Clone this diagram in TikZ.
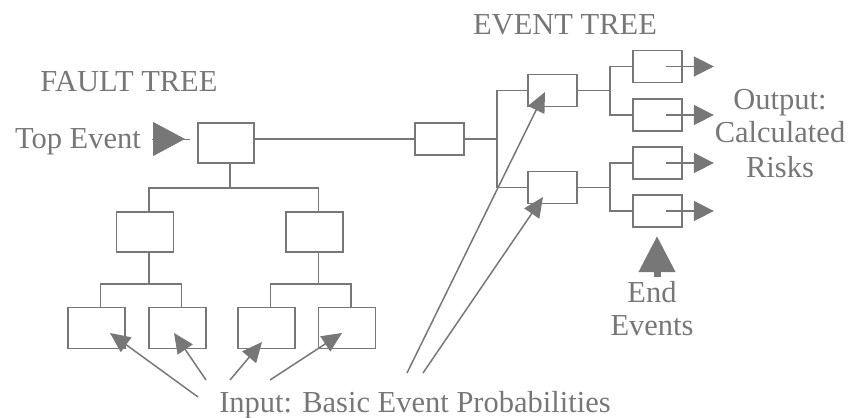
\documentclass[tikz,border=0pt]{standalone}
\usepackage{fontspec}
\setmainfont{Liberation Serif}
\usetikzlibrary{arrows.meta,calc}
\definecolor{ink}{HTML}{777777}
\begin{document}
\begin{tikzpicture}[x=1pt,y=-1pt,
  line width=1.7pt, draw=ink, color=ink,
  box/.style={draw=ink, line width=1.7pt, fill=white, inner sep=0pt, minimum width=#1},
  box/.default=57pt,
  fbox/.style={box=57pt, minimum height=40pt},
  ebox/.style={box=49pt, minimum height=32pt},
  lbl/.style={anchor=base, text=ink, font=\fontsize{30.5}{34}\selectfont, inner sep=0pt},
  inarrow/.style={-{Triangle[length=20pt,width=18pt]}, line width=1.5pt},
  outarrow/.style={-{Triangle[length=20pt,width=20pt]}, line width=1.6pt}]
\useasboundingbox (0,0) rectangle (850,417);

% fault tree boxes
\node[box=56pt, minimum height=40pt] (top) at (226,143) {};
\node[fbox] (f2a) at (145,232) {};
\node[fbox] (f2b) at (314.5,232) {};
\node[fbox, minimum height=41pt] (f3a) at (96.5,328) {};
\node[fbox, minimum height=41pt] (f3b) at (177.5,328) {};
\node[fbox, minimum height=41pt] (f3c) at (266.5,328) {};
\node[fbox, minimum height=41pt] (f3d) at (347,328) {};

% event tree boxes
\node[ebox] (e1) at (439.5,139) {};
\node[ebox] (e2) at (552.5,90.5) {};
\node[ebox] (e3) at (552.5,187.5) {};
\node[ebox] (ea) at (657.5,66.5) {};
\node[ebox] (eb) at (657.5,115) {};
\node[ebox] (ec) at (657.5,163) {};
\node[ebox] (ed) at (657.5,211) {};

% fault tree connectors
\draw ([xshift=4pt]top.south) -- ++(0,24) coordinate (fb0);
\draw ([xshift=4pt]f2a.north) |- (fb0) -| ([xshift=4pt]f2b.north);
\draw ([xshift=4pt]f2a.south) -- ++(0,31) coordinate (fb1);
\draw ([xshift=4pt]f3a.north) |- (fb1) -| ([xshift=4pt]f3b.north);
\draw ([xshift=4pt]f2b.south) -- ++(0,31) coordinate (fb2);
\draw ([xshift=4pt]f3c.north) |- (fb2) -| ([xshift=4pt]f3d.north);

% top to event tree
\draw ([yshift=4pt]top.east) -- (e1.west);
\draw (e1.east) -- ++(32,0) coordinate (j1);
\draw (e2.west) -- (e2.west -| j1) -- (e3.west -| j1) -- (e3.west);
\draw (e2.east) -- ++(32,0) coordinate (j2);
\draw (ea.west) -- (ea.west -| j2) -- (eb.west -| j2) -- (eb.west);
\draw (e3.east) -- ++(32,0) coordinate (j3);
\draw (ec.west) -- (ec.west -| j3) -- (ed.west -| j3) -- (ed.west);

% output arrows
\foreach \b in {ea,eb,ec,ed}
  \draw[outarrow] ([xshift=-17pt]\b.east) -- ([xshift=31pt]\b.east);

% top event arrow
\coordinate (tes) at (152,139);
\draw[-{Triangle[length=32pt,width=34pt]}, line width=1pt] (tes) -- (185,139);
\draw[line width=1pt] (183,139) -- (190,139);

% end events arrow
\coordinate (ees) at (657,277);
\coordinate (eee) at (657,236);
\draw[-{Triangle[length=36pt,width=35pt]}, line width=7pt] (ees) -- (eee);

% input arrows
\coordinate (a1) at (198,397);
\coordinate (a2) at (206,380);
\coordinate (a3) at (230,380);
\coordinate (a4) at (270,380);
\coordinate (a5) at (407,373);
\coordinate (a6) at (423,373);
\draw[inarrow] (a1) -- ($(f3a.center)+(13.5,5)$);
\draw[inarrow] (a2) -- ($(f3b.center)+(-3.5,5)$);
\draw[inarrow] (a3) -- ($(f3c.center)+(-4.5,14)$);
\draw[inarrow] (a4) -- ($(f3d.center)+(-5,5)$);
\draw[inarrow] (a5) -- ($(e2.center)+(-7.5,1.5)$);
\draw[inarrow] (a6) -- ($(e3.center)+(-9.5,9.5)$);

% labels
\node[lbl] (ft) at (129,92) {FAULT TREE};
\node[lbl] (te) at (78,148) {Top Event};
\node[lbl] (et) at (565,35) {EVENT TREE};
\node[lbl] (o1) at (780,110) {Output:};
\node[lbl] (o2) at (780,142) {Calculated};
\node[lbl] (o3) at (780,177) {Risks};
\node[lbl] (en1) at (652,302) {End};
\node[lbl] (en2) at (652,335) {Events};
\node[lbl] (inp) at (415,412) {Input: Basic Event Probabilities};
\end{tikzpicture}
\end{document}
